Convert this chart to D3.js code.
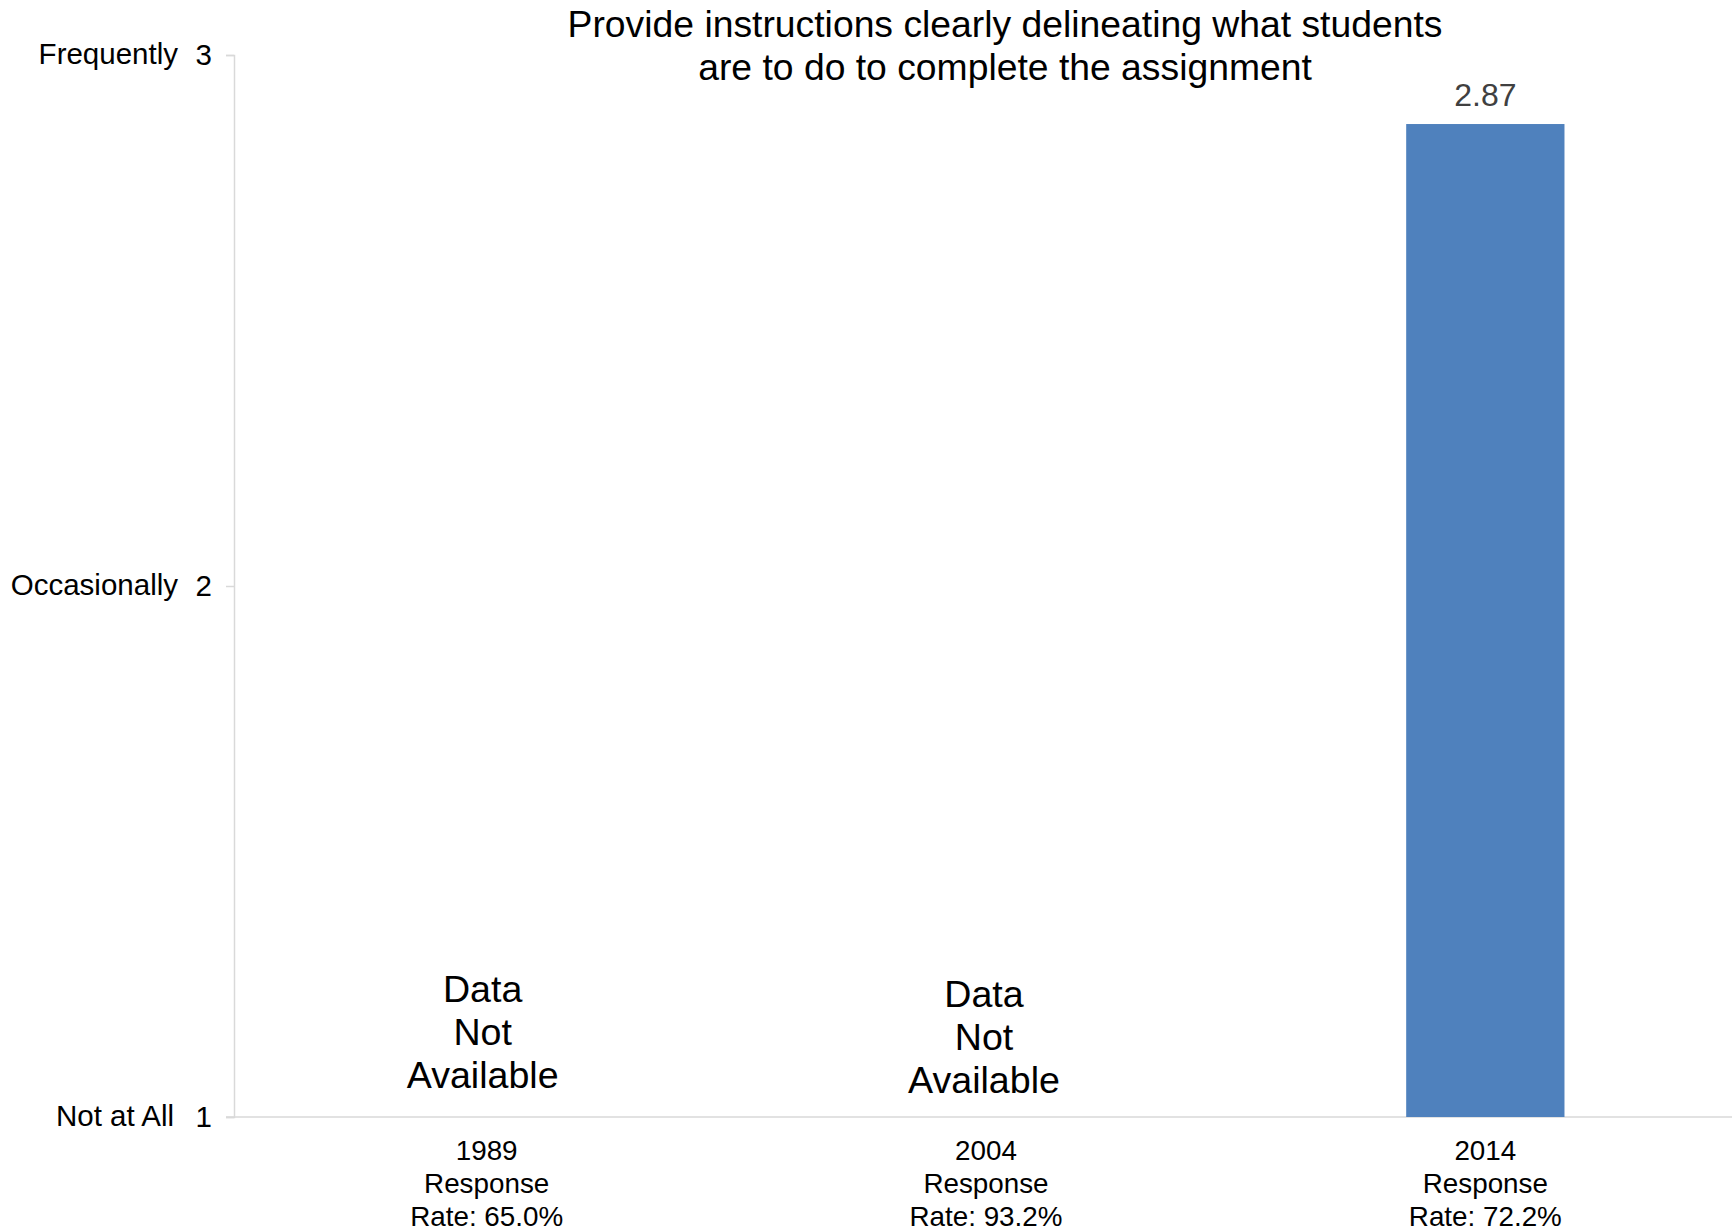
<!DOCTYPE html>
<html>
<head>
<meta charset="utf-8">
<script src="https://cdn.jsdelivr.net/npm/d3@7"></script>
<style>
  html, body { margin: 0; padding: 0; background: #fff; }
  svg { display: block; font-family: "Liberation Sans", Arial, sans-serif; }
</style>
</head>
<body>
<svg id="chart" width="1732" height="1232"></svg>
<script>
// ---- data ----
const categories = ["1989", "2004", "2014"];
const categoryLines = [
  ["1989", "Response", "Rate: 65.0%"],
  ["2004", "Response", "Rate: 93.2%"],
  ["2014", "Response", "Rate: 72.2%"]
];
const values = [null, null, 2.87];
const missingText = ["Data", "Not", "Available"];
const yTicks = [1, 2, 3];
const yTickNames = ["Not at All", "Occasionally", "Frequently"];
const titleLines = ["Provide instructions clearly delineating what students", "are to do to complete the assignment"];

// ---- layout ----
const plotLeft = 234, plotRight = 1732, plotTop = 55, plotBottom = 1117;
const svg = d3.select("#chart");

const x = d3.scaleBand().domain(categories).range([plotLeft + 3, plotRight + 3]).paddingInner(0.683).paddingOuter(0.3415);
const y = d3.scaleLinear().domain([1, 3]).range([plotBottom, plotTop]);

// title
svg.append("text")
  .attr("text-anchor", "middle")
  .attr("font-size", 37.3).attr("fill", "#000")
  .selectAll("tspan").data(titleLines).join("tspan")
  .attr("x", 1005).attr("y", (d, i) => 37 + i * 43)
  .text(d => d);

// y axis
const yAxis = d3.axisLeft(y).tickValues(yTicks).tickFormat(d3.format("d")).tickSize(8).tickPadding(14);
const gy = svg.append("g").attr("transform", `translate(${plotLeft},0)`).call(yAxis);
gy.select(".domain").attr("stroke", "#d9d9d9").attr("stroke-width", 1.5);
gy.selectAll(".tick line").attr("stroke", "#d9d9d9").attr("stroke-width", 1.5);
gy.selectAll(".tick text").attr("font-size", 29.5).attr("fill", "#000")
  .attr("font-family", "'Liberation Sans', Arial, sans-serif");

// y tick names
svg.append("g").selectAll("text").data(yTicks).join("text")
  .attr("x", (d, i) => i === 0 ? 174 : 178)
  .attr("y", d => y(d))
  .attr("dy", "0.32em")
  .attr("text-anchor", "end")
  .attr("font-size", 29.5).attr("fill", "#000")
  .text((d, i) => yTickNames[i]);

// x baseline
svg.append("line")
  .attr("x1", plotLeft - 8).attr("x2", plotRight)
  .attr("y1", y(1)).attr("y2", y(1))
  .attr("stroke", "#d9d9d9").attr("stroke-width", 1.5);

// bars
const barData = categories.map((c, i) => ({ c, v: values[i] }));
svg.append("g").selectAll("rect").data(barData.filter(d => d.v != null)).join("rect")
  .attr("x", d => x(d.c))
  .attr("width", x.bandwidth())
  .attr("y", d => y(d.v))
  .attr("height", d => y(1) - y(d.v))
  .attr("fill", "#4f81bd");

// value labels
svg.append("g").selectAll("text").data(barData.filter(d => d.v != null)).join("text")
  .attr("x", d => x(d.c) + x.bandwidth() / 2)
  .attr("y", d => y(d.v) - 18)
  .attr("text-anchor", "middle")
  .attr("font-size", 32).attr("fill", "#404040")
  .text(d => d3.format(".2f")(d.v));

// "Data Not Available" labels
const missing = barData.filter(d => d.v == null);
const missOffsets = [{ dx: -4, y: 1002 }, { dx: -2, y: 1007 }];
missing.forEach((d, j) => {
  const cx = x(d.c) + x.bandwidth() / 2 + missOffsets[j].dx;
  svg.append("text")
    .attr("text-anchor", "middle")
    .attr("font-size", 37.6).attr("fill", "#000")
    .selectAll("tspan").data(missingText).join("tspan")
    .attr("x", cx)
    .attr("y", (t, i) => missOffsets[j].y + i * 43)
    .text(t => t);
});

// category labels
svg.append("g").selectAll("text").data(categories).join("text")
  .attr("text-anchor", "middle")
  .attr("font-size", 27.8).attr("fill", "#000")
  .each(function(d, i) {
    const cx = x(d) + x.bandwidth() / 2;
    d3.select(this).selectAll("tspan").data(categoryLines[i]).join("tspan")
      .attr("x", cx)
      .attr("y", (t, k) => 1160 + k * 33)
      .text(t => t);
  });
</script>
</body>
</html>
